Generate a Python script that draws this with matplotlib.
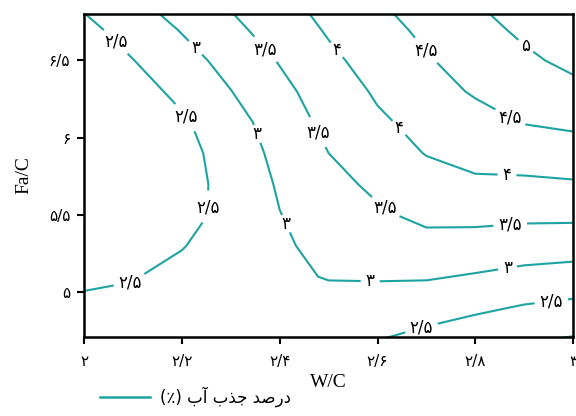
import numpy as np
import matplotlib
matplotlib.use("Agg")
import matplotlib.pyplot as plt
from matplotlib.lines import Line2D

# grid: W/C columns, Fa/C rows, water absorption (%)
wc = [2.0, 2.1, 2.2, 2.3, 2.4, 2.5, 2.6, 2.7, 2.8, 2.9, 3.0]
fac = [4.7, 4.9, 5.1, 5.3, 5.5, 5.7, 5.9, 6.1, 6.3, 6.5, 6.7, 6.8]
absorb = [
    [2.62, 2.64, 2.66, 2.65, 2.62, 2.58, 2.52, 2.37, 2.20, 2.06, 1.97],
    [2.57, 2.60, 2.66, 2.70, 2.74, 2.78, 2.77, 2.70, 2.59, 2.46, 2.38],
    [2.44, 2.48, 2.62, 2.76, 2.89, 3.03, 3.04, 3.04, 2.96, 2.86, 2.80],
    [2.20, 2.30, 2.48, 2.70, 2.93, 3.14, 3.24, 3.34, 3.30, 3.24, 3.21],
    [2.10, 2.15, 2.32, 2.66, 2.99, 3.21, 3.43, 3.61, 3.63, 3.60, 3.60],
    [2.05, 2.12, 2.30, 2.67, 3.05, 3.35, 3.60, 3.80, 3.94, 3.92, 3.95],
    [2.05, 2.15, 2.33, 2.72, 3.13, 3.50, 3.76, 4.02, 4.12, 4.21, 4.29],
    [2.10, 2.20, 2.43, 2.81, 3.23, 3.63, 3.93, 4.14, 4.33, 4.52, 4.59],
    [2.15, 2.30, 2.62, 2.99, 3.37, 3.74, 4.06, 4.31, 4.55, 4.75, 4.86],
    [2.20, 2.49, 2.82, 3.16, 3.53, 3.90, 4.19, 4.46, 4.69, 4.91, 5.12],
    [2.37, 2.70, 3.03, 3.38, 3.72, 4.05, 4.33, 4.60, 4.84, 5.09, 5.34],
    [2.49, 2.82, 3.15, 3.48, 3.81, 4.12, 4.41, 4.675, 4.925, 5.175, 5.42],
]
levels = [2.5, 3.0, 3.5, 4.0, 4.5, 5.0]
low_level = [2.0]  # only clips the bottom right corner, no label

xticks = [2.0, 2.2, 2.4, 2.6, 2.8, 3.0]
yticks = [5.0, 5.5, 6.0, 6.5]

FA_DIGITS = str.maketrans("0123456789.", "۰۱۲۳۴۵۶۷۸۹/")

def fa(v):
    s = ("%.1f" % v).rstrip("0").rstrip(".")
    return s.translate(FA_DIGITS)

teal = "#1ea3a3"

fig = plt.figure(figsize=(5.76, 4.16), dpi=100)
ax = fig.add_axes([0.146, 0.19, 0.849, 0.776])

X, Y = np.meshgrid(wc, fac)
Z = np.array(absorb)
ax.contour(X, Y, Z, levels=low_level, colors=teal, linewidths=1.5)
cs = ax.contour(X, Y, Z, levels=levels, colors=teal, linewidths=1.5)

label_spots = [
    (2.074, 6.65), (2.207, 6.13), (2.237, 5.55), (2.094, 5.065), (2.687, 4.80), (2.955, 4.95),
    (2.227, 6.58), (2.35, 6.02), (2.407, 5.435), (2.585, 5.08), (2.865, 5.175),
    (2.37, 6.57), (2.468, 6.02), (2.616, 5.55), (2.871, 5.455),
    (2.517, 6.57), (2.636, 6.04), (2.865, 5.78),
    (2.697, 6.56), (2.871, 6.13),
    (2.902, 6.59),
]
labels = ax.clabel(cs, inline=True, inline_spacing=5, fontsize=12,
                   colors="black", fmt=fa, manual=label_spots)
for t in labels:
    t.set_rotation(0)
    t.set_family("DejaVu Sans")

ax.set_xlim(2.0, 3.0)
ax.set_ylim(4.71, 6.8)
ax.set_xticks(xticks)
ax.set_xticklabels([fa(v) for v in xticks], family="DejaVu Sans", fontsize=11)
ax.set_yticks(yticks)
ax.set_yticklabels([fa(v) for v in yticks], family="DejaVu Sans", fontsize=11)
ax.tick_params(direction="out", length=5, width=1.5, pad=5)
ax.tick_params(axis="x", pad=7)
for sp in ax.spines.values():
    sp.set_linewidth(1.8)

ax.set_xlabel("W/C", family="Liberation Serif", fontsize=14, labelpad=4)
ax.set_ylabel("Fa/C", family="Liberation Serif", fontsize=14, labelpad=12)

# legend text in visual order with shaped Arabic letters
legend_text = "(\u066A) \uFE8F\uFE81 \uFE8F\uFEAC\uFE9F \uFEAA\uFEBB\uFEAD\uFEA9"
handle = Line2D([], [], color=teal, linewidth=1.8)
fig.legend([handle], [legend_text], loc="lower left", bbox_to_anchor=(0.148, -0.014),
           frameon=False, handlelength=3.0, handletextpad=0.6,
           prop={"family": "DejaVu Sans", "size": 12})

fig.savefig("out.png", dpi=100)
